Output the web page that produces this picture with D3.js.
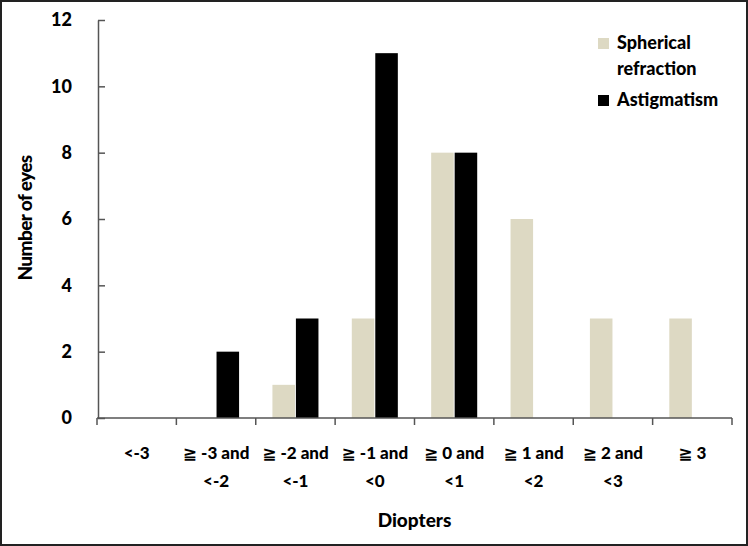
<!DOCTYPE html>
<html><head><meta charset="utf-8">
<script src="https://cdn.jsdelivr.net/npm/d3@7"></script>
<style>
body{margin:0;background:#fff;}
svg{display:block;}
text{font-family:Lato,"Open Sans","DejaVu Sans",sans-serif;font-weight:900;fill:#000;}
</style></head>
<body><svg id="chart" width="748" height="546"></svg>
<script>
const categories = ["<-3","≧ -3 and\n<-2","≧ -2 and\n<-1","≧ -1 and\n<0","≧ 0 and\n<1","≧ 1 and\n<2","≧ 2 and\n<3","≧ 3"];
const seriesNames = ["Spherical refraction","Astigmatism"];
const spherical = [0,0,1,3,8,6,3,3];
const astigmatism = [0,2,3,11,8,0,0,0];
const yTicks = [0,2,4,6,8,10,12];
const colors = ["#DDD9C3","#000000"];

const svg = d3.select("#chart");
svg.append("rect").attr("x",1).attr("y",1).attr("width",746).attr("height",544)
  .attr("fill","#fff").attr("stroke","#222").attr("stroke-width",2);

const x = d3.scaleBand().domain(categories).range([97,732]).paddingInner(0.42).paddingOuter(0.21);
const x1 = d3.scaleBand().domain(seriesNames).range([0,x.bandwidth()]).paddingInner(0.04);
const y = d3.scaleLinear().domain([0,12]).range([418,20]);

const data = categories.map((c,i)=>({cat:c, vals:[spherical[i],astigmatism[i]]}));
const g = svg.append("g");
data.forEach(d=>{
  d.vals.forEach((v,j)=>{
    if(v<=0) return;
    g.append("rect")
      .attr("x",x(d.cat)+x1(seriesNames[j]))
      .attr("y",y(v))
      .attr("width",x1.bandwidth())
      .attr("height",y(0)-y(v))
      .attr("fill",colors[j]);
  });
});

// y axis
const yAxis = svg.append("g").attr("transform","translate(98,0)")
  .call(d3.axisLeft(y).tickValues(yTicks).tickSizeInner(-7).tickSizeOuter(0).tickPadding(26));
yAxis.select(".domain").attr("stroke","#555").attr("stroke-width",1.5);
yAxis.selectAll(".tick line").attr("stroke","#555").attr("stroke-width",1.5);
yAxis.selectAll(".tick text").attr("font-size",18).attr("font-family","Lato,sans-serif").attr("font-weight",900).attr("fill","#000");

// x axis
const xTickPos = d3.range(categories.length+1).map(i=>97 + i*x.step());
const xAxisG = svg.append("g");
xAxisG.append("line").attr("x1",97).attr("x2",732).attr("y1",y(0)).attr("y2",y(0))
  .attr("stroke","#555").attr("stroke-width",1.5);
xAxisG.selectAll("line.t").data(xTickPos).join("line").attr("class","t")
  .attr("x1",d=>d).attr("x2",d=>d).attr("y1",y(0)).attr("y2",y(0)+7)
  .attr("stroke","#555").attr("stroke-width",1.5);
categories.forEach(c=>{
  const lines = c.split("\n");
  const t = xAxisG.append("text").attr("text-anchor","middle").attr("font-size",17)
    .attr("x",x(c)+x.bandwidth()/2);
  lines.forEach((l,i)=>{
    t.append("tspan").attr("x",x(c)+x.bandwidth()/2).attr("y",459+i*28).text(l);
  });
});

// titles
svg.append("text").attr("x",414.5).attr("y",527).attr("text-anchor","middle").attr("font-size",19).text("Diopters");
svg.append("text").attr("transform","translate(32,218) rotate(-90)").attr("text-anchor","middle")
  .attr("font-size",19).attr("letter-spacing",-0.6).text("Number of eyes");

// legend
const leg = svg.append("g");
leg.append("rect").attr("x",598).attr("y",38).attr("width",11).attr("height",11).attr("fill",colors[0]);
leg.append("text").attr("x",617).attr("y",49).attr("font-size",18).text("Spherical");
leg.append("text").attr("x",617).attr("y",75).attr("font-size",18).text("refraction");
leg.append("rect").attr("x",598).attr("y",95).attr("width",11).attr("height",11).attr("fill",colors[1]);
leg.append("text").attr("x",617).attr("y",106).attr("font-size",18).text("Astigmatism");
</script></body></html>
